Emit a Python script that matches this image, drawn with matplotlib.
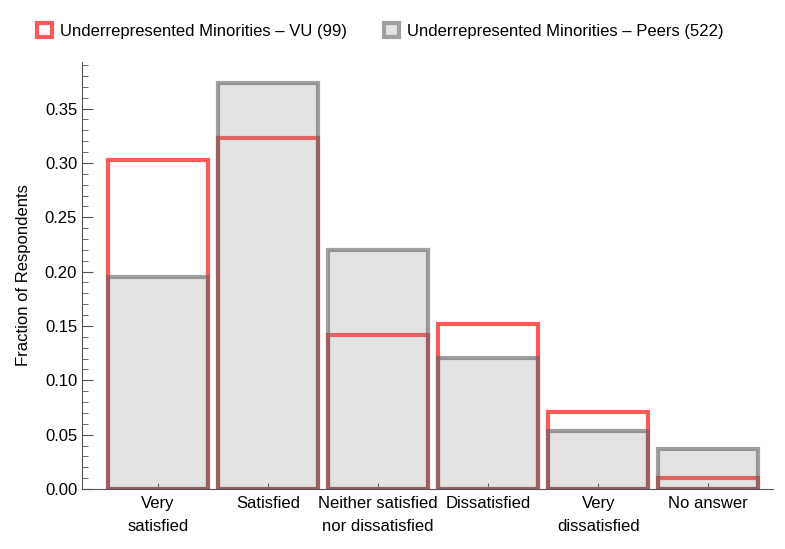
import matplotlib.pyplot as plt
from matplotlib.patches import Patch
from matplotlib.ticker import MultipleLocator, FormatStrFormatter

plt.rcParams['font.family'] = ['Liberation Sans', 'DejaVu Sans']

categories = ["Very\nsatisfied", "Satisfied", "Neither satisfied\nnor dissatisfied",
              "Dissatisfied", "Very\ndissatisfied", "No answer"]
vu = [30 / 99, 32 / 99, 14 / 99, 15 / 99, 7 / 99, 1 / 99]
peers = [102 / 522, 195 / 522, 115 / 522, 63 / 522, 28 / 522, 19 / 522]
label_vu = "Underrepresented Minorities \u2013 VU (99)"
label_peers = "Underrepresented Minorities \u2013 Peers (522)"

red = "#ff5a5a"
grey_edge = (0.38, 0.38, 0.38, 0.6)
grey_face = (0.5, 0.5, 0.5, 0.22)
fs = 12

fig = plt.figure(figsize=(7.85, 5.49), dpi=100)
ax = fig.add_axes([0.1045, 0.1093, 0.8805, 0.778])

x = range(len(categories))
ax.bar(x, vu, width=0.91, facecolor="none", edgecolor=red, linewidth=3, zorder=2)
ax.bar(x, peers, width=0.91, facecolor=grey_face, edgecolor=grey_edge, linewidth=3, zorder=3)

ax.set_xlim(-0.69, 5.59)
ax.set_ylim(0, 0.393)
ax.yaxis.set_major_locator(MultipleLocator(0.05))
ax.yaxis.set_minor_locator(MultipleLocator(0.01))
ax.yaxis.set_major_formatter(FormatStrFormatter("%.2f"))
ax.set_xticks(list(x))
ax.set_xticklabels(categories, linespacing=1.65, fontsize=fs)

for s in ["top", "right"]:
    ax.spines[s].set_visible(False)
for s in ["left", "bottom"]:
    ax.spines[s].set_color("#555555")
ax.tick_params(axis="y", which="major", direction="in", length=8, color="#555555", labelsize=fs)
ax.tick_params(axis="y", which="minor", direction="in", length=4, color="#555555")
ax.tick_params(axis="x", direction="in", length=4, color="#555555", pad=5)
ax.set_ylabel("Fraction of Respondents", fontsize=fs, labelpad=10)

handles = [Patch(facecolor="white", edgecolor=red, linewidth=3, label=label_vu),
           Patch(facecolor="#e3e3e3", edgecolor="#a0a0a0", linewidth=3, label=label_peers)]
fig.legend(handles=handles, loc="upper left", bbox_to_anchor=(0.028, 0.985), ncol=2,
           frameon=False, fontsize=fs, handlelength=0.9, handleheight=0.9,
           handletextpad=0.5, columnspacing=2.2)

fig.savefig("out.png", dpi=100)
